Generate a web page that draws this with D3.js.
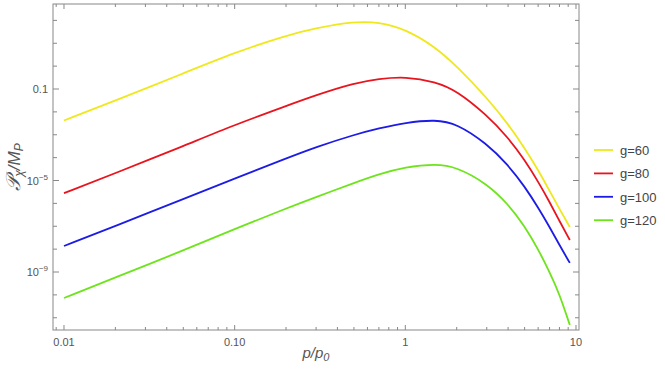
<html>
<head>
<style>
  body { margin: 0; background: #fff; }
  text { font-family: "Liberation Sans", Arial, sans-serif; }
  .tick-label { fill: #555; font-size: 11px; }
  .legend text { fill: #444; font-size: 13px; }
  .axis-title { fill: #555; font-size: 15px; font-style: italic; }
</style>
<script src="https://d3js.org/d3.v7.min.js"></script>
</head>
<body>
<svg width="665" height="372"></svg>
<script>
// momentum grid (p/p0) shared by every curve
const momenta = [0.01, 0.02, 0.05, 0.1, 0.2, 0.3, 0.5, 0.7, 1, 1.5, 2, 3, 4, 5, 6, 7, 8, 9.2];

const seriesNames = ["g=60", "g=80", "g=100", "g=120"];
const seriesColors = ["#efe81c", "#e8141e", "#1c1ce6", "#6ee41c"];

const g60 = [4.2e-3, 3.1e-2, 0.48, 3.9, 22, 46, 89, 85, 42, 6.9, 1.0, 4.2e-2, 2.95e-3, 2.6e-4, 2.9e-5, 3.5e-6, 5.7e-7, 9.3e-8];
const g80 = [2.8e-6, 2.1e-5, 3.2e-4, 2.7e-3, 1.8e-2, 5.4e-2, 0.18, 0.28, 0.35, 0.21, 8.5e-2, 7.3e-3, 7.6e-4, 7.9e-5, 9.0e-6, 1.15e-6, 1.7e-7, 2.5e-8];
const g100 = [1.37e-8, 1.03e-7, 1.55e-6, 1.22e-5, 9.2e-5, 2.9e-4, 1.0e-3, 1.9e-3, 3.4e-3, 4.6e-3, 3.1e-3, 4.1e-4, 4.8e-5, 5.5e-6, 6.6e-7, 9.3e-8, 1.5e-8, 2.5e-9];
const g120 = [7.3e-11, 5.8e-10, 8.7e-9, 7.6e-8, 6.0e-7, 1.9e-6, 7.8e-6, 1.9e-5, 3.9e-5, 5.3e-5, 3.9e-5, 7.4e-6, 9.4e-7, 1.03e-7, 1.0e-8, 1.0e-9, 1.1e-10, 4.8e-12];

const xTickValues = [0.01, 0.1, 1, 10];
const xTickLabels = ["0.01", "0.10", "1", "10"];
const yTickValues = [1e-1, 1e-5, 1e-9];
const yTickLabels = [["0.1", ""], ["10", "\u22125"], ["10", "\u22129"]];

const svg = d3.select("svg");
const pLeft = 53, pRight = 579, pTop = 4, pBottom = 330;

const x = d3.scaleLog().domain([Math.pow(10, -2.0644), Math.pow(10, 1.0176)]).range([pLeft, pRight]);
const y = d3.scaleLog().domain([Math.pow(10, -11.535), Math.pow(10, 2.716)]).range([pBottom, pTop]);

// frame
svg.append("rect")
  .attr("x", pLeft).attr("y", pTop)
  .attr("width", pRight - pLeft).attr("height", pBottom - pTop)
  .attr("fill", "none").attr("stroke", "#888").attr("stroke-width", 1);

// x ticks: majors and minors on bottom and top
let xTicks = [];
for (let e = -3; e <= 1; e++) {
  for (let m = 1; m <= 9; m++) {
    const v = m * Math.pow(10, e);
    if (x(v) >= pLeft && x(v) <= pRight) xTicks.push({v: v, major: m == 1});
  }
}
svg.append("g").selectAll("line").data(xTicks).enter().append("line")
  .attr("x1", d => x(d.v)).attr("x2", d => x(d.v))
  .attr("y1", pBottom).attr("y2", d => pBottom - (d.major ? 5 : 3))
  .attr("stroke", "#888");
svg.append("g").selectAll("line").data(xTicks).enter().append("line")
  .attr("x1", d => x(d.v)).attr("x2", d => x(d.v))
  .attr("y1", pTop).attr("y2", d => pTop + (d.major ? 5 : 3))
  .attr("stroke", "#888");
svg.append("g").selectAll("text").data(xTickValues).enter().append("text")
  .attr("class", "tick-label")
  .attr("x", d => x(d)).attr("y", pBottom + 16)
  .attr("text-anchor", "middle")
  .text((d, i) => xTickLabels[i]);

// y ticks: every decade, labelled ones longer
let yTicks = [];
for (let e = -12; e <= 3; e++) {
  const v = Math.pow(10, e);
  if (y(v) >= pTop && y(v) <= pBottom) yTicks.push({v: v, major: (e + 1) % 4 == 0});
}
svg.append("g").selectAll("line").data(yTicks).enter().append("line")
  .attr("x1", pLeft).attr("x2", d => pLeft + (d.major ? 6 : 4))
  .attr("y1", d => y(d.v)).attr("y2", d => y(d.v))
  .attr("stroke", "#888");
svg.append("g").selectAll("line").data(yTicks).enter().append("line")
  .attr("x1", pRight).attr("x2", d => pRight - (d.major ? 6 : 4))
  .attr("y1", d => y(d.v)).attr("y2", d => y(d.v))
  .attr("stroke", "#888");
const yl = svg.append("g").selectAll("text").data(yTickValues).enter().append("text")
  .attr("class", "tick-label")
  .attr("x", pLeft - 5).attr("y", d => y(d) + 4)
  .attr("text-anchor", "end");
yl.append("tspan").text((d, i) => yTickLabels[i][0]);
yl.append("tspan").attr("dy", -5).attr("font-size", 8).text((d, i) => yTickLabels[i][1]);

// curves
const allSeries = [g60, g80, g100, g120];
const line = d3.line()
  .x(d => x(d[0])).y(d => y(d[1]))
  .curve(d3.curveBasis);
const plot = svg.append("g");
allSeries.forEach((vals, i) => {
  plot.append("path")
    .datum(momenta.map((p, j) => [p, vals[j]]))
    .attr("d", line)
    .attr("fill", "none")
    .attr("stroke", seriesColors[i])
    .attr("stroke-width", 1.8);
});

// axis titles
svg.append("text").attr("class", "axis-title")
  .attr("x", (pLeft + pRight) / 2).attr("y", 358)
  .attr("text-anchor", "middle")
  .html('p/p<tspan dy="3" font-size="11">0</tspan>');

svg.append("text").attr("class", "axis-title")
  .attr("transform", "translate(20,167) rotate(-90)")
  .attr("text-anchor", "middle")
  .style("font-size", "17px")
  .html('<tspan font-size="20">\uD835\uDCAB</tspan><tspan dy="3" font-size="12">\u03C7</tspan><tspan dy="-3">/M</tspan><tspan dy="3" font-size="12">P</tspan>');

// legend
const legend = svg.append("g").attr("class", "legend");
const item = legend.selectAll("g").data(seriesNames).enter().append("g")
  .attr("transform", (d, i) => "translate(594," + (150 + i * 23.4) + ")");
item.append("line").attr("x1", 0).attr("x2", 19).attr("y1", 0).attr("y2", 0)
  .attr("stroke", (d, i) => seriesColors[i]).attr("stroke-width", 1.8);
item.append("text").attr("x", 26).attr("y", 5).text(d => d);
</script>
</body>
</html>
